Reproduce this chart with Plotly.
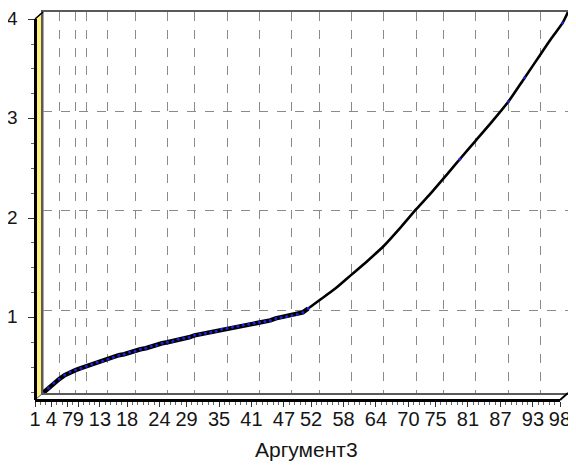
import plotly.graph_objects as go

# ---- data ----
x_low = list(range(1, 51))
y_low = [0.17, 0.22, 0.27, 0.31, 0.35, 0.38, 0.40, 0.42, 0.44, 0.46,
         0.48, 0.49, 0.51, 0.53, 0.55, 0.56, 0.58, 0.59, 0.61, 0.62,
         0.64, 0.65, 0.67, 0.68, 0.69, 0.71, 0.72, 0.73, 0.75, 0.76,
         0.77, 0.78, 0.79, 0.81, 0.82, 0.83, 0.84, 0.85, 0.86, 0.87,
         0.88, 0.89, 0.90, 0.92, 0.93, 0.94, 0.95, 0.96, 0.98, 1.02]
x_high = [50, 52, 55, 58, 61, 64, 67, 70, 73, 76, 78, 81, 84, 87, 90, 93, 95, 97, 98]
y_high = [1.02, 1.10, 1.22, 1.36, 1.50, 1.65, 1.83, 2.02, 2.20, 2.39, 2.52,
          2.71, 2.90, 3.10, 3.34, 3.58, 3.74, 3.89, 4.00]
x_high_marked = [78, 87, 90, 97]

x_ticks = [1, 4, 7, 9, 13, 18, 24, 29, 35, 41, 47, 52, 58, 64, 70, 75, 81, 87, 93, 98]
y_ticks = [1, 2, 3, 4]
x_title = "Аргумент3"

X_RANGE = [1, 98]
Y_RANGE = [0.17, 4.0]

# ---- geometry (page pixels; the page body adds an 8px offset) ----
OFF = 8
W, H = 576 - OFF, 466 - OFF
BX0, BX1, BY0, BY1 = 43, 568, 12, 393     # back plane (page px)
DX, DY = 8, 7                              # pseudo-3D depth offset
EPS = 0.002

def fx(p):
    return (p - OFF) / W

def fy(p):
    return (H - (p - OFF)) / H

mk_x = x_low + [v for v in x_high if v in x_high_marked]
mk_y = y_low + [y_high[x_high.index(v)] for v in x_high if v in x_high_marked]

fig = go.Figure()
fig.add_trace(go.Scatter(x=x_low, y=y_low, mode="lines",
                         line=dict(color="black", width=4.5),
                         xaxis="x", yaxis="y", hoverinfo="skip", showlegend=False))
fig.add_trace(go.Scatter(x=x_high, y=y_high, mode="lines",
                         line=dict(color="black", width=2.6, shape="spline", smoothing=0.6),
                         xaxis="x", yaxis="y", hoverinfo="skip", showlegend=False))
fig.add_trace(go.Scatter(x=mk_x, y=mk_y, mode="markers",
                         marker=dict(color="#2020e0", size=3, line=dict(width=0)),
                         xaxis="x", yaxis="y", showlegend=False))
# invisible traces that carry the front axes
for xa, ya in (("x2", "y2"), ("x3", "y3")):
    fig.add_trace(go.Scatter(x=[X_RANGE[0]], y=[Y_RANGE[0]], mode="markers",
                             marker=dict(opacity=0), xaxis=xa, yaxis=ya,
                             showlegend=False, hoverinfo="skip"))

font = "Liberation Sans, Arial, sans-serif"
grid_col = "#8a8a8a"
txt_col = "#151515"
FX_DOM = [fx(BX0 - DX), fx(BX1 - DX)]
FY_DOM = [fy(BY1 + DY), fy(BY0 + DY)]

fig.update_layout(
    width=W, height=H,
    margin=dict(l=0, r=0, t=0, b=0, pad=0, autoexpand=False),
    paper_bgcolor="white", plot_bgcolor="rgba(0,0,0,0)",
    font=dict(family=font, size=20, color=txt_col),
    xaxis=dict(domain=[fx(BX0), fx(BX1)], range=X_RANGE, tickmode="array", tickvals=x_ticks,
               showticklabels=False, ticks="", showgrid=True, gridcolor=grid_col,
               griddash="dash", gridwidth=1, zeroline=False, anchor="y",
               showline=True, linecolor="#5a5a5a", linewidth=1.5, mirror=True),
    yaxis=dict(domain=[fy(BY1), fy(BY0)], range=Y_RANGE, tickmode="array", tickvals=y_ticks,
               showticklabels=False, ticks="", showgrid=True, gridcolor=grid_col,
               griddash="dash", gridwidth=1, zeroline=False, anchor="x",
               showline=True, linecolor="#5a5a5a", linewidth=1.5, mirror=True),
    # front axes: lines and tick marks
    xaxis2=dict(domain=FX_DOM, range=X_RANGE, anchor="free", position=fy(BY1 + DY),
                tickmode="array", tickvals=x_ticks,
                ticks="outside", ticklen=5, tickcolor="#333", showticklabels=False,
                showgrid=False, zeroline=False, showline=True, linecolor="black",
                linewidth=3,
                minor=dict(tickmode="linear", tick0=1, dtick=1, ticks="outside",
                           ticklen=3, tickcolor="#666", showgrid=False)),
    yaxis2=dict(domain=FY_DOM, range=[Y_RANGE[0], Y_RANGE[1] + EPS], anchor="free",
                position=fx(BX0 - DX), tickmode="array", tickvals=y_ticks,
                ticks="outside", ticklen=6, tickcolor="#333", showticklabels=False,
                showgrid=False, zeroline=False, showline=True, linecolor="black",
                linewidth=3,
                minor=dict(tickmode="linear", tick0=0, dtick=0.25, ticks="outside",
                           ticklen=3, tickcolor="#666", showgrid=False)),
    # front x axis: tick labels
    xaxis3=dict(domain=FX_DOM, range=[X_RANGE[0], X_RANGE[1] + EPS],
                anchor="free", position=fy(405), tickmode="array", tickvals=x_ticks,
                ticks="", tickangle=0, showgrid=False, zeroline=False, showline=False,
                tickfont=dict(size=20, family=font, color=txt_col)),
    yaxis3=dict(domain=FY_DOM, range=Y_RANGE, anchor="free", position=fx(BX0 - DX),
                visible=False),
)

# y tick labels on the front plane (placed on the value axis, shifted by the depth offset)
for v in y_ticks:
    fig.add_annotation(text=str(v), xref="paper", yref="y", x=fx(20), y=v,
                       xanchor="right", yanchor="middle", yshift=-6.5, showarrow=False,
                       font=dict(size=19, family=font, color=txt_col))

# yellow left wall
fig.add_shape(type="path", xref="paper", yref="paper", layer="below",
              path=f"M {fx(BX0-DX)},{fy(BY1+DY)} L {fx(BX0-DX)},{fy(BY0+DY)} "
                   f"L {fx(BX0)},{fy(BY0)} L {fx(BX0)},{fy(BY1)} Z",
              fillcolor="#fff07a", line=dict(color="#555", width=1))
# floor right diagonal
fig.add_shape(type="line", xref="paper", yref="paper",
              x0=fx(BX1 - DX), y0=fy(BY1 + DY), x1=fx(BX1), y1=fy(BY1),
              line=dict(color="black", width=2))
# top-left diagonal of wall
fig.add_shape(type="line", xref="paper", yref="paper",
              x0=fx(BX0 - DX), y0=fy(BY0 + DY), x1=fx(BX0), y1=fy(BY0),
              line=dict(color="black", width=1.5))

fig.add_annotation(text=x_title, xref="paper", yref="paper",
                   x=fx(306), y=fy(449), xanchor="center", yanchor="middle",
                   showarrow=False, font=dict(size=21, family=font, color=txt_col))

fig.write_html("out.html")
